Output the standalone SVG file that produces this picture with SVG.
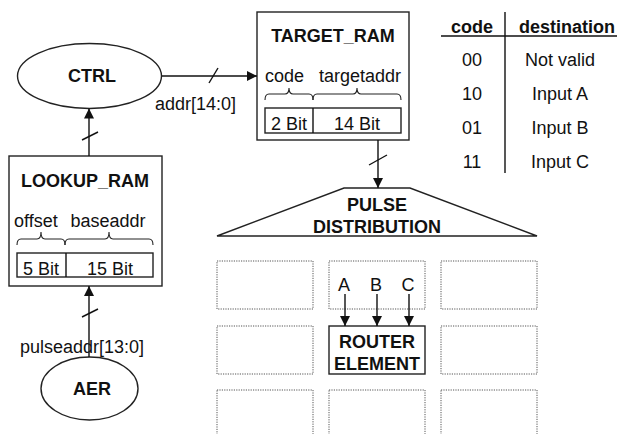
<svg xmlns="http://www.w3.org/2000/svg" width="620" height="434" viewBox="0 0 620 434">
<style>
text{font-family:"Liberation Sans",Arial,sans-serif;fill:#111}
.b{font-weight:bold;font-size:18px}
.r{font-size:18px}
.ln{stroke:#111;stroke-width:1.4;fill:none}
.box{stroke:#222;stroke-width:1.4;fill:#fff}
.dot{stroke:#555;stroke-width:1;fill:none;stroke-dasharray:1.2,1.2}
.br{stroke:#222;stroke-width:1.1;fill:none}
</style>
<defs>
<marker id="ah" markerWidth="10" markerHeight="10" refX="10" refY="5" orient="auto" markerUnits="userSpaceOnUse">
<path d="M0,0 L10,5 L0,10 Z" fill="#111"/>
</marker>
</defs>
<rect width="620" height="434" fill="#fff"/>

<g id="grid">
<rect class="dot" x="217" y="261" width="96" height="48"/>
<rect class="dot" x="329" y="261" width="96" height="48"/>
<rect class="dot" x="441" y="261" width="96" height="48"/>
<rect class="dot" x="217" y="326" width="96" height="48"/>
<rect class="dot" x="441" y="326" width="96" height="48"/>
<rect class="dot" x="217" y="390" width="96" height="50"/>
<rect class="dot" x="329" y="390" width="96" height="50"/>
<rect class="dot" x="441" y="390" width="96" height="50"/>
</g>

<g id="ctrl">
<ellipse class="box" cx="89.5" cy="76" rx="72" ry="32.5"/>
<text class="b" x="92" y="82" text-anchor="middle">CTRL</text>
</g>

<g id="target_ram">
<rect class="box" x="257" y="12" width="152" height="128"/>
<text class="b" x="333" y="42" text-anchor="middle">TARGET_RAM</text>
<text class="r" x="265" y="82">code</text>
<text class="r" x="360" y="82" text-anchor="middle">targetaddr</text>
<path class="br" d="M265,100 Q265,94 269,94 L285,94 Q289,94 289,88 Q289,94 293,94 L309,94 Q313,94 313,100"/>
<path class="br" d="M313,100 Q313,94 317,94 L353,94 Q357,94 357,88 Q357,94 361,94 L397,94 Q401,94 401,100"/>
<rect class="box" x="265" y="108" width="136" height="25" stroke-width="1.2"/>
<line class="ln" x1="313" y1="108" x2="313" y2="133" stroke-width="1.2"/>
<text class="r" x="289" y="130" text-anchor="middle">2 Bit</text>
<text class="r" x="357" y="130" text-anchor="middle">14 Bit</text>
</g>

<g id="lookup_ram">
<rect class="box" x="9" y="156" width="153" height="130"/>
<text class="b" x="85" y="187" text-anchor="middle">LOOKUP_RAM</text>
<text class="r" x="14" y="227">offset</text>
<text class="r" x="108" y="227" text-anchor="middle">baseaddr</text>
<path class="br" d="M17,245 Q17,239 21,239 L37,239 Q41,239 41,232 Q41,239 45,239 L61,239 Q65,239 65,245"/>
<path class="br" d="M65,245 Q65,239 69,239 L105,239 Q109,239 109,232 Q109,239 113,239 L149,239 Q153,239 153,245"/>
<rect class="box" x="17" y="253" width="136" height="24" stroke-width="1.2"/>
<line class="ln" x1="66" y1="253" x2="66" y2="277" stroke-width="1.2"/>
<text class="r" x="41" y="275" text-anchor="middle">5 Bit</text>
<text class="r" x="110" y="275" text-anchor="middle">15 Bit</text>
</g>

<g id="aer">
<ellipse class="box" cx="89.5" cy="388.5" rx="48.5" ry="31.5"/>
<text class="b" x="92" y="395" text-anchor="middle">AER</text>
</g>

<g id="pulse_distribution">
<path class="box" d="M344,188 L410,188 L537,236 L217,236 Z"/>
<text class="b" x="377" y="211" text-anchor="middle">PULSE</text>
<text class="b" x="377" y="233" text-anchor="middle">DISTRIBUTION</text>
</g>

<g id="router_element">
<rect class="box" x="329" y="326" width="96" height="48"/>
<text class="b" x="377" y="348" text-anchor="middle">ROUTER</text>
<text class="b" x="377" y="370" text-anchor="middle">ELEMENT</text>
<text class="r" x="344" y="291" text-anchor="middle">A</text>
<text class="r" x="376" y="291" text-anchor="middle">B</text>
<text class="r" x="408" y="291" text-anchor="middle">C</text>
</g>

<g id="code_table">
<line class="ln" x1="505" y1="12" x2="505" y2="173" stroke-width="1.2"/>
<line class="ln" x1="441" y1="36" x2="617" y2="36" stroke-width="1.2"/>
<text class="b" x="472" y="33" text-anchor="middle">code</text>
<text class="b" x="567" y="33" text-anchor="middle">destination</text>
<text class="r" x="472" y="66" text-anchor="middle">00</text>
<text class="r" x="560" y="66" text-anchor="middle">Not valid</text>
<text class="r" x="472" y="100" text-anchor="middle">10</text>
<text class="r" x="560" y="100" text-anchor="middle">Input A</text>
<text class="r" x="472" y="134" text-anchor="middle">01</text>
<text class="r" x="560" y="134" text-anchor="middle">Input B</text>
<text class="r" x="472" y="168" text-anchor="middle">11</text>
<text class="r" x="560" y="168" text-anchor="middle">Input C</text>
</g>

<g id="connectors">
<line class="ln" x1="162" y1="76" x2="257" y2="76" marker-end="url(#ah)"/>
<line class="ln" x1="209" y1="83" x2="218" y2="68" stroke-width="1.1"/>
<text class="r" x="155" y="110">addr[14:0]</text>

<line class="ln" x1="89" y1="156" x2="89" y2="108.5" marker-end="url(#ah)"/>
<line class="ln" x1="82" y1="140" x2="98" y2="132" stroke-width="1.1"/>

<line class="ln" x1="89" y1="357" x2="89" y2="286" marker-end="url(#ah)"/>
<line class="ln" x1="82" y1="317" x2="98" y2="309" stroke-width="1.1"/>
<text class="r" x="20" y="353">pulseaddr[13:0]</text>

<line class="ln" x1="378" y1="140" x2="378" y2="188" marker-end="url(#ah)"/>
<line class="ln" x1="369" y1="165" x2="387" y2="155" stroke-width="1.1"/>

<line class="ln" x1="345" y1="294" x2="345" y2="326" marker-end="url(#ah)"/>
<line class="ln" x1="377" y1="294" x2="377" y2="326" marker-end="url(#ah)"/>
<line class="ln" x1="409" y1="294" x2="409" y2="326" marker-end="url(#ah)"/>
</g>
</svg>
